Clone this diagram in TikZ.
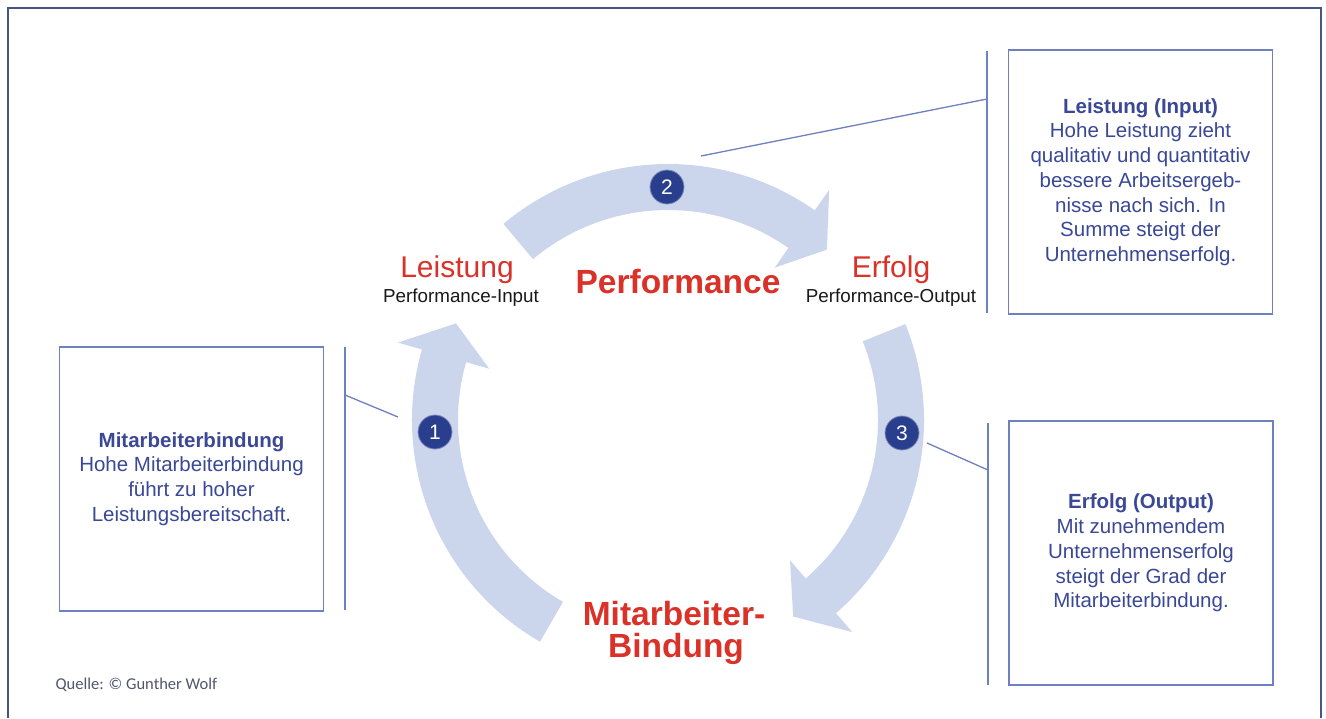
\documentclass[tikz,border=0pt]{standalone}
\usepackage{fontspec}
\setmainfont{Liberation Sans}
\newfontfamily\qfont{Carlito}
\usetikzlibrary{calc}
\definecolor{bandcol}{RGB}{203,214,237}
\definecolor{numcol}{RGB}{42,62,142}
\definecolor{redtxt}{RGB}{218,50,40}
\definecolor{bluetxt}{RGB}{58,72,150}
\definecolor{boxcol}{RGB}{110,128,192}
\definecolor{framecol}{RGB}{70,85,130}
\definecolor{quellecol}{RGB}{80,86,110}
\definecolor{blacktxt}{RGB}{25,25,25}
\begin{document}
\begin{tikzpicture}[x=1pt,y=-1pt,
  numcirc/.style={circle, fill=numcol, draw=numcol!60!white, line width=0.8pt, minimum size=34pt, inner sep=0pt, text=white, font=\fontsize{21}{21}\selectfont},
  infobox/.style={draw=boxcol, line width=1.4pt, minimum width=264pt, minimum height=264pt, inner sep=0pt, align=center, text=bluetxt, font=\fontsize{20.5}{24.75}\selectfont},
  bracket/.style={draw=boxcol, line width=1.3pt},
  leader/.style={draw=boxcol, line width=1.3pt},
  bigred/.style={anchor=base, text=redtxt, font=\fontsize{30}{30}\selectfont},
  boldred/.style={anchor=base, text=redtxt, font=\bfseries\fontsize{33.5}{33.5}\selectfont},
  subtxt/.style={anchor=base, text=blacktxt, font=\fontsize{18.8}{18.8}\selectfont}
]
\useasboundingbox (0,0) rectangle (1326,718);
\fill[white] (0,0) rectangle (1326,718);
\draw[framecol, line width=2pt] (8,718) -- (8,8) -- (1321,8) -- (1321,718);

\coordinate (C) at (668,420);
% arrow 1: tail 120, base 196, tip 204.5
\fill[bandcol] ($(C)+(120:256)$) arc[start angle=120, end angle=196, radius=256]
  -- ($(C)+(196:281)$) -- ($(C)+(204.5:233)$) -- ($(C)+(196:186)$) -- ($(C)+(196:210)$)
  arc[start angle=196, end angle=120, radius=210] -- cycle;
% arrow 2: tail 230, base 305, tip 313
\fill[bandcol] ($(C)+(230:256)$) arc[start angle=230, end angle=305, radius=256]
  -- ($(C)+(305:281)$) -- ($(C)+(313:233)$) -- ($(C)+(305:186)$) -- ($(C)+(305:210)$)
  arc[start angle=305, end angle=230, radius=210] -- cycle;
% arrow 3: tail 338, base 409, tip 417.5
\fill[bandcol] ($(C)+(338:256)$) arc[start angle=338, end angle=409, radius=256]
  -- ($(C)+(409:281)$) -- ($(C)+(417.5:233)$) -- ($(C)+(409:186)$) -- ($(C)+(409:210)$)
  arc[start angle=409, end angle=338, radius=210] -- cycle;

% info boxes
\node[infobox] (box1) at (191.5,479) {\textbf{Mitarbeiterbindung}\\Hohe Mitarbeiterbindung\\führt zu hoher\\Leistungsbereitschaft.};
\node[infobox] (box2) at (1140.5,182) {\textbf{Leistung (Input)}\\Hohe Leistung zieht\\qualitativ und quantitativ\\bessere Arbeitsergeb-\\nisse nach sich. In\\Summe steigt der\\Unternehmenserfolg.};
\node[infobox] (box3) at (1141,553) {\textbf{Erfolg (Output)}\\Mit zunehmendem\\Unternehmenserfolg\\steigt der Grad der\\Mitarbeiterbindung.};

% brackets
\coordinate (b1t) at (345,347); \coordinate (b1b) at (345,610);
\coordinate (b2t) at (987,51);  \coordinate (b2b) at (987,313);
\coordinate (b3t) at (988,423); \coordinate (b3b) at (988,685);
\draw[bracket] (b1t) -- (b1b);
\draw[bracket] (b2t) -- (b2b);
\draw[bracket] (b3t) -- (b3b);

% number circles
\node[numcirc] (n1) at (435,432) {1};
\node[numcirc] (n2) at (667,187) {2};
\node[numcirc] (n3) at (902,433) {3};

% leaders
\coordinate (l1a) at (398,417); \coordinate (l1b) at (345,395);
\coordinate (l2a) at (701,156); \coordinate (l2b) at (987,99);
\coordinate (l3a) at (927,443); \coordinate (l3b) at (988,470);
\draw[leader] (l1a) -- (l1b);
\draw[leader] (l2a) -- (l2b);
\draw[leader] (l3a) -- (l3b);

% labels
\node[bigred] (leist) at (457,277) {Leistung};
\node[subtxt] (pin) at (461,302) {Performance-Input};
\node[boldred] (perf) at (678,293) {Performance};
\node[bigred] (erf) at (891,277) {Erfolg};
\node[subtxt] (pout) at (891,302) {Performance-Output};
\node[boldred] (mb1) at (674,625) {Mitarbeiter-};
\node[boldred] (mb2) at (676,657) {Bindung};

\node[anchor=base west, text=quellecol, font=\qfont\fontsize{16.5}{16.5}\selectfont] (quelle) at (52,689) {Quelle: © Gunther Wolf};
\end{tikzpicture}
\end{document}
